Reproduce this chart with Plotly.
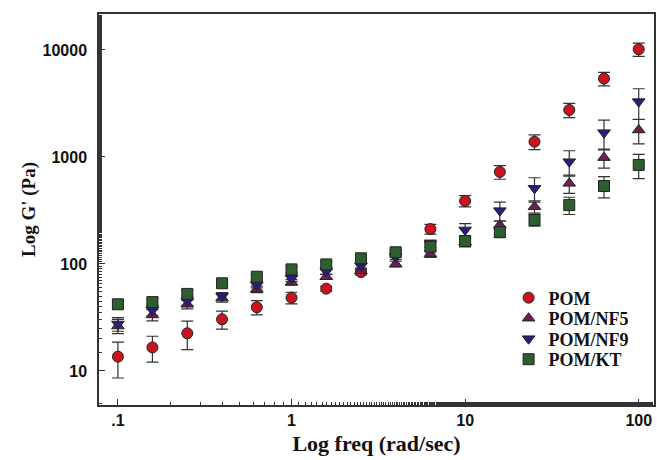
import plotly.graph_objects as go

freq = [0.1, 0.158, 0.251, 0.398, 0.631, 1.0, 1.585, 2.512, 3.98, 6.31, 10.0, 15.85, 25.1, 39.8, 63.1, 100.0]

pom = [13.6, 16.6, 22.5, 30.4, 39.4, 48.4, 58.8, 84, 124, 212, 388, 724, 1390, 2750, 5400, 10150]
pom_err = [5, 4.5, 6.7, 5.8, 6, 6, 3, 5, 8, 22, 47, 105, 220, 420, 780, 1450]

nf5 = [26.3, 33.4, 42, 48, 58, 67.4, 76, 86.5, 100, 124, 160, 231, 343, 567, 986, 1787]
nf5_err = [4, 4, 4, 4, 4, 4, 4, 5, 6, 9, 12, 20, 45, 110, 200, 460]

nf9 = [27.5, 37, 45, 50, 63.7, 73.5, 85, 96, 117, 155, 208, 315, 509, 903, 1687, 3290]
nf9_err = [4, 4, 4, 4, 4, 5, 5, 6, 7, 12, 30, 63, 130, 240, 520, 1050]

kt = [42, 44, 52.5, 66, 76, 89, 99, 113, 128.6, 145, 164, 198, 258, 355, 535, 842]
kt_err = [4, 4, 5, 5, 5, 6, 6, 7, 8, 12, 20, 20, 32, 65, 120, 215]

series = [
    ("POM", pom, pom_err, "circle", "#c8141e"),
    ("POM/NF5", nf5, nf5_err, "triangle-up", "#6e1f52"),
    ("POM/NF9", nf9, nf9_err, "triangle-down", "#2c1c7c"),
    ("POM/KT", kt, kt_err, "square", "#2d5e2f"),
]
legend_ids = ["legend", "legend2", "legend3", "legend4"]
legend_rows = [0.2737, 0.2212, 0.1688, 0.1164]

fig = go.Figure()
for (name, ys, errs, sym, col), lid in zip(series, legend_ids):
    fig.add_trace(go.Scatter(
        x=freq, y=ys, mode="markers", name=name, legend=lid,
        error_y=dict(type="data", array=errs, visible=True, color="#333333", thickness=1.2, width=6),
        marker=dict(symbol=sym, size=11, color=col, line=dict(color="#222222", width=1)),
    ))

axis_common = dict(
    type="log", showgrid=False, zeroline=False, showline=True, linecolor="#333333", linewidth=1.5,
    mirror=True, ticks="inside", ticklen=6, tickcolor="#333333", tickwidth=1,
    minor=dict(ticks="inside", ticklen=3, tickcolor="#333333", showgrid=False),
    tickfont=dict(family="Liberation Sans", size=16, color="#111111", weight="bold"),
)

legend_font = dict(family="Liberation Serif", size=18, color="#111111", weight="bold")
legends = {}
for lid, ypos in zip(legend_ids, legend_rows):
    legends[lid] = dict(x=0.738, y=ypos, xanchor="left", yanchor="middle",
                        bgcolor="rgba(0,0,0,0)", font=legend_font, itemwidth=30)

fig.update_layout(
    width=657, height=460,
    margin=dict(l=99, r=1, t=14, b=55),
    paper_bgcolor="white", plot_bgcolor="white",
    xaxis=dict(**axis_common, range=[-1.109, 2.088],
               tickvals=[0.1, 1, 10, 100], ticktext=[".1", "1", "10", "100"],
               title=dict(text="Log freq (rad/sec)", standoff=8,
                          font=dict(family="Liberation Serif", size=22, color="#111111", weight="bold"))),
    yaxis=dict(**axis_common, range=[0.682, 4.336], ticklabelstandoff=7,
               tickvals=[10, 100, 1000, 10000], ticktext=["10", "100", "1000", "10000"],
               title=dict(text="Log G' (Pa)", standoff=2,
                          font=dict(family="Liberation Serif", size=19, color="#111111", weight="bold"))),
    showlegend=True,
    **legends,
)

fig.write_html(
    "out.html",
    config={"displayModeBar": False},
    post_script="document.body.style.margin='0';document.body.style.overflow='hidden';",
)
